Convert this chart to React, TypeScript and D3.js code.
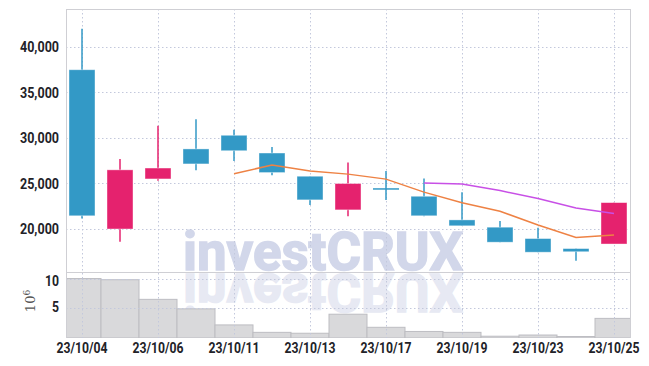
import React from 'react';
import * as d3 from 'd3';

// trading days
const dates = ['23/10/04', '23/10/05', '23/10/06', '23/10/10', '23/10/11', '23/10/12', '23/10/13',
  '23/10/16', '23/10/17', '23/10/18', '23/10/19', '23/10/20', '23/10/23', '23/10/24', '23/10/25'];

const opens = [37500, 20000, 25500, 28800, 30300, 28350, 25800, 22100, 24400, 23600, 21000, 20200, 18950, 17850, 18350];
const highs = [42000, 27700, 31350, 32050, 30900, 29000, 25800, 27300, 26370, 25550, 24030, 20880, 20150, 17850, 22900];
const lows = [21150, 18600, 25300, 26450, 27470, 25900, 22650, 21400, 23200, 21400, 20350, 18550, 17450, 16500, 18350];
const closes = [21450, 26500, 26700, 27150, 28600, 26200, 23200, 25000, 24400, 21450, 20350, 18550, 17450, 17500, 22900];

// moving averages (null = not drawn)
const ma5 = [null, null, null, null, 26080, 27030, 26370, 26030, 25480, 24050, 22880, 21950, 20440, 19060, 19350];
const ma10 = [null, null, null, null, null, null, null, null, null, 25065, 24955, 24225, 23345, 22305, 21700];

// volume in millions
const volumes = [10.0, 9.8, 6.5, 4.9, 2.2, 0.95, 0.8, 4.0, 1.8, 1.1, 0.95, 0.3, 0.5, 0.25, 3.3];

const priceTicks = [20000, 25000, 30000, 35000, 40000];
const volumeTicks = [5, 10];
const labelDates = ['23/10/04', '23/10/06', '23/10/11', '23/10/13', '23/10/17', '23/10/19', '23/10/23', '23/10/25'];

const W = 649;
const H = 366;
const left = 66;
const right = 630;
const top = 9;
const split = 272;
const bottom = 338;

const UP = '#e5226e';
const DOWN = '#3399c6';
const GRID = '#c3c8dc';
const FONT = 'Roboto, "DejaVu Sans", sans-serif';

export default function App() {
  const x = d3.scaleBand<string>().domain(dates).range([63, 633]).padding(0);
  const cx = (d: string) => (x(d) as number) + x.bandwidth() / 2;
  const y = d3.scaleLinear().domain([15275, 44175]).range([split, top]);
  const yv = d3.scaleLinear().domain([0, 11.1]).range([bottom, split]);
  const fmt = d3.format(',');
  const bodyW = 26;

  const maLine = d3.line<number | null>()
    .defined(v => v !== null)
    .x((_, i) => cx(dates[i]))
    .y(v => y(v as number));

  return (
    <svg width={W} height={H} style={{ position: 'absolute', left: 0, top: 0, background: '#fff' }}>
      <defs>
        <clipPath id="plot">
          <rect x={left} y={top} width={right - left} height={bottom - top} />
        </clipPath>
      </defs>

      {/* watermark + reflection */}
      <g fontFamily="Roboto, Lato, sans-serif" fontWeight="bold" fontSize={53}>
        <text x={183} y={270} textLength={280} lengthAdjust="spacingAndGlyphs" fill="#d2d7ea"
          stroke="#d2d7ea" strokeWidth={1.5}>investCRUX</text>
        <text x={183} y={270} textLength={280} lengthAdjust="spacingAndGlyphs" fill="#e7e9f3"
          stroke="#e7e9f3" strokeWidth={1.5}
          transform={`translate(0,${2 * split}) scale(1,-1)`}>investCRUX</text>
      </g>

      {/* volume */}
      <g clipPath="url(#plot)">
        {dates.map((d, i) => (
          <rect key={d} x={x(d)} y={yv(volumes[i])} width={x.bandwidth()} height={bottom - yv(volumes[i])}
            fill="#d9d9db" stroke="#bdbdc2" strokeWidth={1} />
        ))}
      </g>

      {/* grid */}
      <g stroke={GRID} strokeWidth={1} strokeDasharray="1.5,2.5">
        {priceTicks.map(t => (
          <line key={t} x1={left} x2={right} y1={Math.round(y(t)) + 0.5} y2={Math.round(y(t)) + 0.5} />
        ))}
        {volumeTicks.map(t => (
          <line key={t} x1={left} x2={right} y1={Math.round(yv(t)) + 0.5} y2={Math.round(yv(t)) + 0.5} />
        ))}
        {labelDates.map(d => (
          <line key={d} x1={Math.round(cx(d)) + 0.5} x2={Math.round(cx(d)) + 0.5} y1={top} y2={bottom} />
        ))}
      </g>

      {/* candles */}
      <g clipPath="url(#plot)">
        {dates.map((d, i) => {
          const o = opens[i], c = closes[i];
          const col = c > o ? UP : DOWN;
          const mx = cx(d);
          const yTop = y(Math.max(o, c));
          const yBot = y(Math.min(o, c));
          return (
            <g key={d}>
              <line x1={mx} x2={mx} y1={y(highs[i])} y2={y(lows[i])} stroke={col} strokeWidth={1.5} />
              {o === c ? (
                <line x1={mx - bodyW / 2} x2={mx + bodyW / 2} y1={yTop} y2={yTop} stroke={col} strokeWidth={1.5} />
              ) : (
                <rect x={mx - bodyW / 2} y={yTop} width={bodyW} height={Math.max(1.5, yBot - yTop)}
                  fill={col} stroke="#fff" strokeOpacity={0.5} strokeWidth={0.8} />
              )}
            </g>
          );
        })}
        <path d={maLine(ma5) || ''} fill="none" stroke="#ee8244" strokeWidth={1.5} />
        <path d={maLine(ma10) || ''} fill="none" stroke="#c850e6" strokeWidth={1.5} />
      </g>

      {/* frame */}
      <g stroke="#cfcfd4" strokeWidth={1} fill="none">
        <line x1={left} x2={right} y1={top + 0.5} y2={top + 0.5} />
        <line x1={left} x2={right} y1={split + 0.5} y2={split + 0.5} />
        <line x1={left + 0.5} x2={left + 0.5} y1={top} y2={bottom} />
        <line x1={right + 0.5} x2={right + 0.5} y1={top} y2={bottom} />
      </g>

      {/* axis labels */}
      <g fontFamily={FONT} fontWeight="bold" fontSize={15.5} fill="#222228" textAnchor="end">
        {priceTicks.map(t => (
          <text key={t} x={59} y={y(t) + 1} dominantBaseline="middle" textLength={39}
            lengthAdjust="spacingAndGlyphs">{fmt(t)}</text>
        ))}
        {volumeTicks.map(t => (
          <text key={t} x={59} y={t === 10 ? yv(t) + 3 : yv(t)} dominantBaseline="middle"
            textLength={t === 10 ? 14 : 7} lengthAdjust="spacingAndGlyphs">{t}</text>
        ))}
      </g>
      <g fontFamily={FONT} fontWeight="bold" fontSize={14.5} fill="#222228" textAnchor="middle">
        {labelDates.map(d => (
          <text key={d} x={cx(d)} y={353} textLength={51} lengthAdjust="spacingAndGlyphs">{d}</text>
        ))}
      </g>
      <text transform="translate(35,301) rotate(-90)" textAnchor="middle" fontFamily="'DejaVu Serif', serif"
        fontSize={13} fill="#555">
        10<tspan dy={-5} fontSize={9}>6</tspan>
      </text>
    </svg>
  );
}
